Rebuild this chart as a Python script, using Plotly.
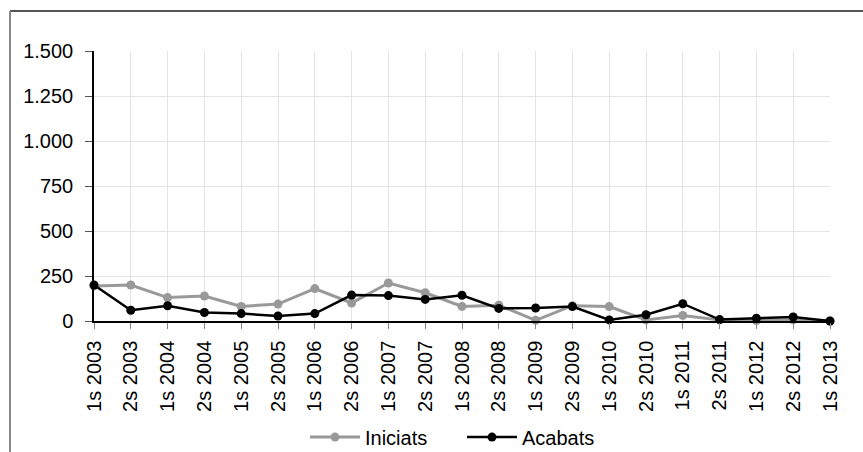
import plotly.graph_objects as go

# Semesters on the category axis
periods = [
    "1s 2003", "2s 2003", "1s 2004", "2s 2004", "1s 2005", "2s 2005",
    "1s 2006", "2s 2006", "1s 2007", "2s 2007", "1s 2008", "2s 2008",
    "1s 2009", "2s 2009", "1s 2010", "2s 2010", "1s 2011", "2s 2011",
    "1s 2012", "2s 2012", "1s 2013",
]

iniciats = [195, 200, 130, 139, 81, 94, 180, 100, 211, 157, 81, 88,
            4, 85, 80, 6, 31, 6, 3, 6, 0]
acabats = [200, 60, 85, 47, 41, 28, 41, 144, 141, 120, 143, 70,
           72, 80, 6, 35, 96, 8, 15, 22, 0]

y_ticks = [0, 250, 500, 750, 1000, 1250, 1500]

FONT = "Liberation Sans, Arial, sans-serif"
FS = 20

fig = go.Figure()
fig.add_trace(go.Scatter(
    x=periods, y=iniciats, name="Iniciats", mode="lines+markers",
    line=dict(color="#999999", width=3),
    marker=dict(color="#999999", size=9),
    cliponaxis=False,
))
fig.add_trace(go.Scatter(
    x=periods, y=acabats, name="Acabats", mode="lines+markers",
    line=dict(color="#000000", width=2.5),
    marker=dict(color="#000000", size=9),
    cliponaxis=False,
))

fig.update_layout(
    width=863, height=452,
    margin=dict(l=94, r=33, t=51, b=131, autoexpand=False),
    paper_bgcolor="white", plot_bgcolor="white",
    separators=",.",
    font=dict(family=FONT, size=FS, color="#000000"),
    showlegend=True,
    legend=dict(
        orientation="h", x=0.5, xanchor="center",
        yref="container", y=0.033, yanchor="middle",
        font=dict(family=FONT, size=FS), itemwidth=50,
        entrywidth=92, bgcolor="rgba(0,0,0,0)",
    ),
    xaxis=dict(
        type="category", range=[0, 20], automargin=False,
        tickangle=-90, tickfont=dict(family=FONT, size=FS),
        ticklabelstandoff=4,
        showgrid=True, gridcolor="#e4e4e4", gridwidth=1,
        showline=True, linecolor="#000000", linewidth=1.5,
        ticks="outside", ticklen=6, tickcolor="#888888",
        zeroline=False,
    ),
    yaxis=dict(
        range=[0, 1500], tickvals=y_ticks, tickformat=",d", automargin=False,
        tickfont=dict(family=FONT, size=FS),
        ticklabelstandoff=8,
        showgrid=True, gridcolor="#e4e4e4", gridwidth=1,
        showline=True, linecolor="#000000", linewidth=1.5,
        ticks="outside", ticklen=7, tickcolor="#555555",
        zeroline=False,
    ),
    shapes=[
        # outer frame around the chart area
        dict(type="line", xref="paper", yref="paper",
             x0=-0.1141, x1=1.2, y0=1.148, y1=1.148,
             line=dict(color="#555555", width=2)),
        dict(type="line", xref="paper", yref="paper",
             x0=-0.1141, x1=-0.1141, y0=1.148, y1=-0.6,
             line=dict(color="#888888", width=2)),
    ],
)

fig.write_html("out.html")
